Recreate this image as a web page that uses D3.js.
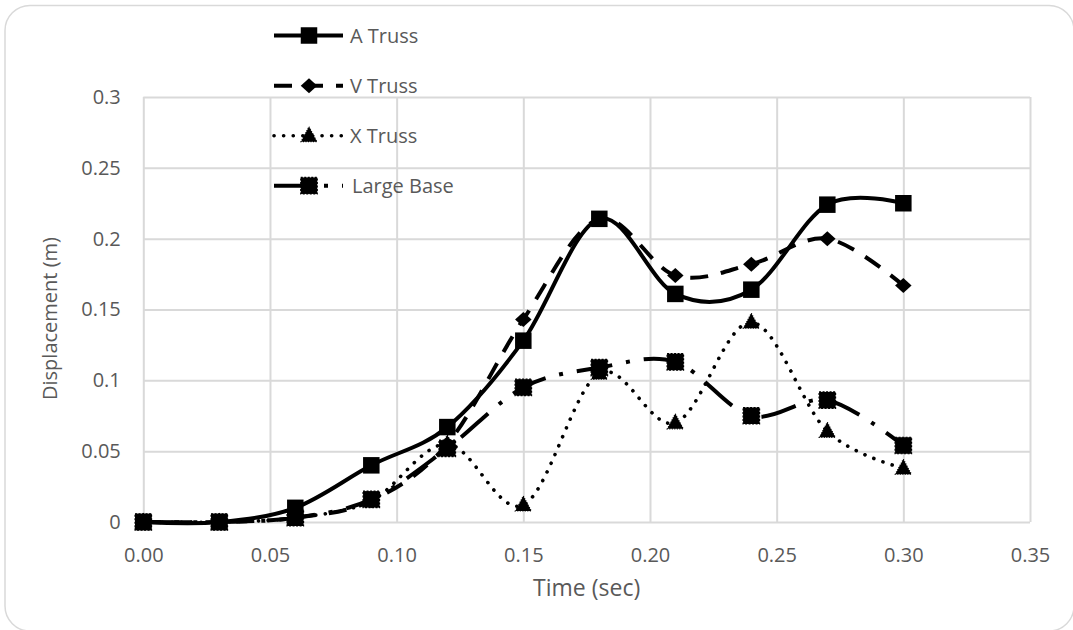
<!DOCTYPE html>
<html>
<head>
<meta charset="utf-8">
<script src="https://cdn.jsdelivr.net/npm/d3@7"></script>
<style>
  html, body { margin: 0; padding: 0; background: #ffffff; }
  svg { display: block; }
  text { font-family: "Open Sans", "Segoe UI", sans-serif; fill: #595959; }
</style>
</head>
<body>
<svg id="chart" width="1073" height="630"></svg>
<script>
// Sampled times (s) and mid-span displacement (m) per bracing type
const time = [0, 0.03, 0.06, 0.09, 0.12, 0.15, 0.18, 0.21, 0.24, 0.27, 0.30];
const aTruss = [0, 0, 0.010, 0.040, 0.067, 0.128, 0.214, 0.161, 0.164, 0.224, 0.225];
const vTruss = [0, 0, 0.003, 0.015, 0.055, 0.143, 0.214, 0.174, 0.182, 0.200, 0.167];
const xTruss = [0, 0, 0.003, 0.015, 0.055, 0.012, 0.105, 0.070, 0.141, 0.064, 0.038];
const largeBase = [0, 0, 0.003, 0.016, 0.052, 0.095, 0.109, 0.113, 0.075, 0.086, 0.054];

const seriesNames = ["A Truss", "V Truss", "X Truss", "Large Base"];

const xTickValues = [0, 0.05, 0.10, 0.15, 0.20, 0.25, 0.30, 0.35];
const xTickLabels = ["0.00", "0.05", "0.10", "0.15", "0.20", "0.25", "0.30", "0.35"];
const yTickValues = [0, 0.05, 0.1, 0.15, 0.2, 0.25, 0.3];
const yTickLabels = ["0", "0.05", "0.1", "0.15", "0.2", "0.25", "0.3"];

const svg = d3.select("#chart");

// outer chart frame (rounded, partly cut off at right and bottom)
svg.append("rect")
  .attr("x", 5).attr("y", 5.5)
  .attr("width", 1069).attr("height", 625.5)
  .attr("rx", 25).attr("ry", 25)
  .attr("fill", "#ffffff")
  .attr("stroke", "#d9d9d9").attr("stroke-width", 1.5);

const plot = { left: 143.3, right: 1030, top: 97, bottom: 522 };

const x = d3.scaleLinear().domain([0, 0.35]).range([plot.left, plot.right]);
const y = d3.scaleLinear().domain([0, 0.3]).range([plot.bottom, plot.top]);

// gridlines + tick labels
const gx = svg.append("g")
  .attr("transform", `translate(0,${plot.bottom})`)
  .call(d3.axisBottom(x)
    .tickValues(xTickValues)
    .tickFormat((d, i) => xTickLabels[i])
    .tickSize(-(plot.bottom - plot.top))
    .tickPadding(25.5));

const gy = svg.append("g")
  .attr("transform", `translate(${plot.left},0)`)
  .call(d3.axisLeft(y)
    .tickValues(yTickValues)
    .tickFormat((d, i) => yTickLabels[i])
    .tickSize(-(plot.right - plot.left))
    .tickPadding(22.5));

[gx, gy].forEach(g => {
  g.select(".domain").remove();
  g.selectAll(".tick line").attr("stroke", "#d9d9d9").attr("stroke-width", 2);
  g.selectAll(".tick text")
    .attr("font-family", "'Open Sans', sans-serif")
    .attr("font-size", 20)
    .attr("fill", "#595959");
});

// axis titles
svg.append("text")
  .attr("x", (plot.left + plot.right) / 2)
  .attr("y", 596)
  .attr("text-anchor", "middle")
  .attr("font-family", "'Liberation Sans', Arial, sans-serif")
  .attr("font-size", 23)
  .text("Time (sec)");

svg.append("text")
  .attr("transform", `translate(57,${(plot.top + plot.bottom) / 2 + 9}) rotate(-90)`)
  .attr("text-anchor", "middle")
  .attr("font-size", 20)
  .text("Displacement (m)");

// marker shapes
const squarePath = d3.symbol().type(d3.symbolSquare).size(16.5 * 16.5);
function diamondPath(w, h) {
  const p = d3.path();
  p.moveTo(0, -h / 2); p.lineTo(w / 2, 0); p.lineTo(0, h / 2); p.lineTo(-w / 2, 0); p.closePath();
  return p.toString();
}
function trianglePath(w, h) {
  const p = d3.path();
  p.moveTo(0, -h * 0.6); p.lineTo(w / 2, h * 0.4); p.lineTo(-w / 2, h * 0.4); p.closePath();
  return p.toString();
}

const styles = [
  { values: aTruss, dash: null, width: 4, cap: "butt", marker: squarePath(), markerStroke: null },
  { values: vTruss, dash: "18,13", width: 4, cap: "butt", marker: diamondPath(16.5, 15), markerStroke: null },
  { values: xTruss, dash: "0.1,9.5", width: 3.6, cap: "round", marker: trianglePath(16, 15), markerStroke: "1,1.5" },
  { values: largeBase, dash: "36,14,4,14", width: 4, cap: "butt", marker: squarePath(), markerStroke: "2,1.5" }
];

const line = d3.line()
  .x(d => x(d[0]))
  .y(d => y(d[1]))
  .curve(d3.curveCardinal.tension(0));

styles.forEach((s, i) => {
  const pts = time.map((t, k) => [t, s.values[k]]);
  const g = svg.append("g").attr("class", "series-" + i);
  g.append("path")
    .attr("d", line(pts))
    .attr("fill", "none")
    .attr("stroke", "#000")
    .attr("stroke-width", s.width)
    .attr("stroke-linecap", s.cap)
    .attr("stroke-linejoin", "round")
    .attr("stroke-dasharray", s.dash);
  g.selectAll("path.mk")
    .data(pts)
    .join("path")
    .attr("class", "mk")
    .attr("transform", d => `translate(${x(d[0])},${y(d[1])})`)
    .attr("d", s.marker)
    .attr("fill", "#000")
    .attr("stroke", s.markerStroke ? "#000" : "none")
    .attr("stroke-width", 1.2)
    .attr("stroke-dasharray", s.markerStroke);
});

// legend (top left, over the plot area)
const legendY = [35.5, 85.7, 135.7, 185.7];
const legend = svg.append("g");
styles.forEach((s, i) => {
  const g = legend.append("g").attr("transform", `translate(0,${legendY[i]})`);
  g.append("line")
    .attr("x1", 274).attr("x2", 343)
    .attr("y1", 0).attr("y2", 0)
    .attr("stroke", "#000")
    .attr("stroke-width", s.width)
    .attr("stroke-linecap", s.cap)
    .attr("stroke-dasharray", s.dash);
  g.append("path")
    .attr("transform", "translate(309,0)")
    .attr("d", s.marker)
    .attr("fill", "#000")
    .attr("stroke", s.markerStroke ? "#000" : "none")
    .attr("stroke-width", 1.2)
    .attr("stroke-dasharray", s.markerStroke);
  g.append("text")
    .attr("x", i === 3 ? 352 : 350)
    .attr("y", 0)
    .attr("dy", "0.35em")
    .attr("font-size", 20)
    .text(seriesNames[i]);
});
</script>
</body>
</html>
